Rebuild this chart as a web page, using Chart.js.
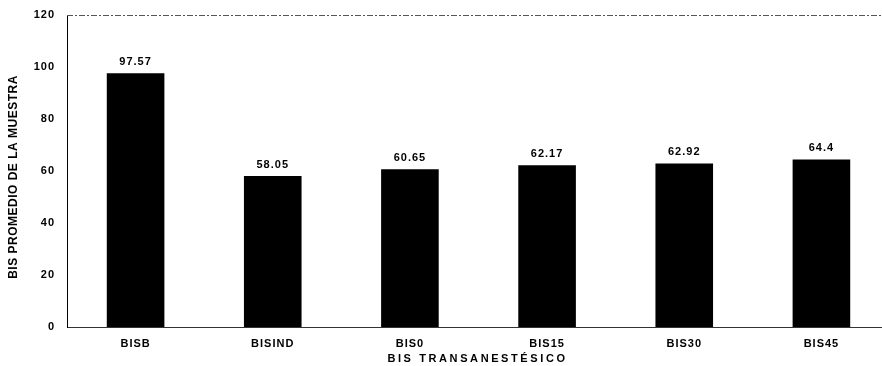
<!DOCTYPE html>
<html>
<head>
<meta charset="utf-8">
<script src="https://cdn.jsdelivr.net/npm/chart.js@4.4.1/dist/chart.umd.min.js"></script>
<style>
  html, body { margin: 0; padding: 0; background: #fff; overflow: hidden; }
  #wrap { width: 890px; height: 366px; }
</style>
</head>
<body>
<div id="wrap"><canvas id="c" width="890" height="366"></canvas></div>
<script>
// Mean BIS per measurement moment
const categories = ['BISB', 'BISIND', 'BIS0', 'BIS15', 'BIS30', 'BIS45'];
const bisMeans = [97.57, 58.05, 60.65, 62.17, 62.92, 64.4];
const yTicks = [0, 20, 40, 60, 80, 100, 120];
const xTitle = 'BIS TRANSANESTÉSICO';
const yTitle = 'BIS PROMEDIO DE LA MUESTRA';

const FONT = "'Liberation Sans', Arial, sans-serif";

// Slightly spaced lettering for all canvas text
const spacing = {
  id: 'spacing',
  beforeDraw(chart) { chart.ctx.letterSpacing = '1px'; }
};

// Value printed above each bar
const valueLabels = {
  id: 'valueLabels',
  afterDatasetsDraw(chart) {
    const ctx = chart.ctx;
    const meta = chart.getDatasetMeta(0);
    ctx.save();
    ctx.letterSpacing = '1px';
    ctx.font = 'bold 11px ' + FONT;
    ctx.fillStyle = '#000';
    ctx.textAlign = 'center';
    ctx.textBaseline = 'bottom';
    meta.data.forEach((bar, i) => {
      ctx.fillText(String(bisMeans[i]), bar.x, bar.y - 6);
    });
    ctx.restore();
  }
};

// Frame line along the top of the plot, plus the two axis titles
const frameAndTitles = {
  id: 'frameAndTitles',
  afterDraw(chart) {
    const a = chart.chartArea, ctx = chart.ctx;
    ctx.save();
    ctx.strokeStyle = '#555';
    ctx.lineWidth = 1;
    ctx.setLineDash([6, 2, 2, 2]);
    ctx.beginPath();
    ctx.moveTo(a.left, a.top + 0.5);
    ctx.lineTo(a.right, a.top + 0.5);
    ctx.stroke();
    ctx.restore();

    ctx.save();
    ctx.fillStyle = '#000';
    ctx.font = 'bold 11px ' + FONT;
    ctx.textAlign = 'center';
    ctx.textBaseline = 'middle';
    ctx.letterSpacing = '2.6px';
    ctx.fillText(xTitle, (a.left + a.right) / 2 - 1, 359);

    ctx.letterSpacing = '0.5px';
    ctx.font = 'bold 12px ' + FONT;
    ctx.translate(14, 177);
    ctx.rotate(-Math.PI / 2);
    ctx.fillText(yTitle, 0, 0);
    ctx.restore();
  }
};

new Chart(document.getElementById('c'), {
  type: 'bar',
  data: {
    labels: categories,
    datasets: [{
      data: bisMeans,
      backgroundColor: '#000',
      borderWidth: 0,
      barPercentage: 0.42,
      categoryPercentage: 1.0
    }]
  },
  options: {
    responsive: false,
    animation: false,
    layout: { padding: { top: 15, right: 0, left: 0, bottom: 0 } },
    plugins: { legend: { display: false }, tooltip: { enabled: false } },
    scales: {
      x: {
        grid: { display: false, drawTicks: false },
        border: { display: true, color: '#333', width: 1 },
        ticks: { color: '#000', font: { family: FONT, size: 11, weight: 'bold' }, padding: 10 },
        afterFit(s) { s.height = 39; }
      },
      y: {
        min: 0, max: 120,
        afterBuildTicks(s) { s.ticks = yTicks.map(v => ({ value: v })); },
        grid: { display: false, drawTicks: false },
        border: { display: true, color: '#000', width: 1 },
        ticks: { color: '#000', font: { family: FONT, size: 11, weight: 'bold' }, padding: 12 },
        afterFit(s) { s.width = 67; s.paddingTop = 0; }
      }
    }
  },
  plugins: [spacing, valueLabels, frameAndTitles]
});
</script>
</body>
</html>
